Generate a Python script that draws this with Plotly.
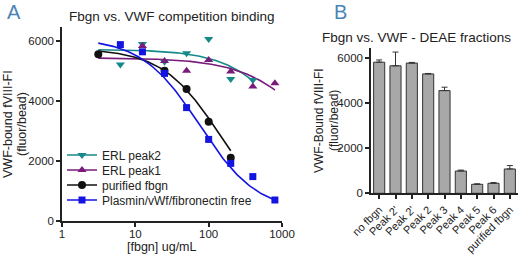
import numpy as np
import plotly.graph_objects as go

# ---------------- Panel A data ----------------
conc_erl2 = [6.25, 12.5, 25, 50, 100, 200, 400]
val_erl2 = [5220, 5900, 5310, 5590, 6070, 4730, 4700]

conc_erl1 = [12.5, 25, 50, 100, 200, 400, 800]
val_erl1 = [5830, 5330, 5010, 5370, 4980, 4480, 4590]

conc_fbgn = [3.125, 25, 50, 100, 200]
val_fbgn = [5560, 5010, 4400, 3310, 2110]

conc_plasmin = [6.25, 12.5, 25, 50, 100, 200, 400, 800]
val_plasmin = [5880, 5640, 4920, 3780, 2720, 1920, 1480, 700]

# four-parameter logistic fit parameters: (top, bottom, IC50, hill, x_start, x_end)
fit_erl2 = (5720, 0, 1800, 1.0, 3.125, 400)
fit_erl1 = (5440, 0, 3800, 0.9, 3.125, 800)
fit_fbgn = (5750, 0, 142, 1.1, 3.125, 200)
fit_plasmin = (6100, 300, 75, 1.1, 3.125, 800)

# ---------------- Panel B data ----------------
fractions = ["no fbgn", "Peak 2'", "Peak 2'", "Peak 2", "Peak 3",
             "Peak 4", "Peak 5", "Peak 6", "purified fbgn"]
fraction_vals = [5820, 5660, 5780, 5300, 4560, 990, 400, 445, 1080]
fraction_err = [100, 610, 30, 20, 150, 40, 20, 30, 150]

FONT = "Liberation Sans, Arial, sans-serif"
TXT = "#222222"
TEAL = "#16898a"
PURPLE = "#7a1a7a"
BLACK = "#111111"
BLUE = "#1414e0"
PANEL = "#4a84b5"


def logistic_curve(p):
    top, bottom, ic50, hill, x0, x1 = p
    xs = np.logspace(np.log10(x0), np.log10(x1), 120)
    ys = bottom + (top - bottom) / (1 + (xs / ic50) ** hill)
    return xs, ys


W, H = 520, 258
fig = go.Figure()

series = [
    ("ERL peak2", conc_erl2, val_erl2, fit_erl2, TEAL, "triangle-down", 8),
    ("ERL peak1", conc_erl1, val_erl1, fit_erl1, PURPLE, "triangle-up", 8),
    ("purified fbgn", conc_fbgn, val_fbgn, fit_fbgn, BLACK, "circle", 8),
    ("Plasmin/vWf/fibronectin free", conc_plasmin, val_plasmin, fit_plasmin, BLUE, "square", 7),
]

for name, xs, ys, fit, col, sym, sz in series:
    cx, cy = logistic_curve(fit)
    fig.add_trace(go.Scatter(x=cx, y=cy, mode="lines", line=dict(color=col, width=1.6),
                             showlegend=False, xaxis="x", yaxis="y", hoverinfo="skip"))
for name, xs, ys, fit, col, sym, sz in series:
    fig.add_trace(go.Scatter(x=xs, y=ys, mode="markers",
                             marker=dict(symbol=sym, size=sz, color=col),
                             showlegend=False, xaxis="x", yaxis="y", cliponaxis=False))

legend_names = ["legend", "legend2", "legend3", "legend4"]
legend_rows = [155, 170, 185, 200]
for (name, xs, ys, fit, col, sym, sz), lg in zip(series, legend_names):
    fig.add_trace(go.Scatter(x=[None], y=[None], mode="lines+markers", name=name,
                             line=dict(color=col, width=1.6),
                             marker=dict(symbol=sym, size=sz, color=col),
                             xaxis="x", yaxis="y", legend=lg, showlegend=True))

# Panel B bars
fig.add_trace(go.Bar(
    x=list(range(len(fractions))), y=fraction_vals, xaxis="x2", yaxis="y2",
    marker=dict(color="#a8a8a8", line=dict(color="#333333", width=1)),
    error_y=dict(type="data", array=fraction_err, arrayminus=[0] * len(fraction_err),
                 symmetric=False, color="#333333", thickness=1, width=3),
    showlegend=False, width=0.68,
))

axis_common = dict(showline=True, linecolor="#222222", linewidth=1.5, ticks="outside",
                   ticklen=4, tickwidth=1.5, tickcolor="#222222", showgrid=False,
                   zeroline=False, automargin=False,
                   tickfont=dict(family=FONT, size=11.5, color=TXT))

legend_style = dict(xanchor="left", yanchor="middle", bgcolor="rgba(0,0,0,0)",
                    font=dict(family=FONT, size=12, color=TXT), borderwidth=0)
legends = {}
for lg, row in zip(legend_names, legend_rows):
    legends[lg] = dict(x=62 / W, y=(H - row) / H, **legend_style)

fig.update_layout(
    template="none",
    width=W, height=H,
    margin=dict(l=0, r=0, t=0, b=0, autoexpand=False),
    paper_bgcolor="white", plot_bgcolor="white",
    font=dict(family=FONT, color=TXT),
    xaxis=dict(domain=[62 / W, 282 / W], type="log", range=[0, 3],
               tickvals=[1, 10, 100, 1000], ticktext=["1", "10", "100", "1000"],
               anchor="y", ticklabelstandoff=-3, **axis_common),
    yaxis=dict(domain=[(H - 221) / H, (H - 27) / H], range=[0, 6467],
               tickvals=[0, 2000, 4000, 6000], anchor="x", **axis_common),
    xaxis2=dict(domain=[371 / W, 518 / W], range=[-0.5, 8.5],
                tickvals=list(range(len(fractions))), ticktext=fractions,
                tickangle=-45, anchor="y2",
                **{**axis_common, "tickfont": dict(family=FONT, size=11, color=TXT)}),
    yaxis2=dict(domain=[(H - 193.3) / H, (H - 48) / H], range=[0, 6450],
                tickvals=[0, 2000, 4000, 6000], anchor="x2", **axis_common),
    bargap=0.32,
    **legends,
)

ann = [
    dict(text="A", x=5 / W, y=(H - 12) / H, font=dict(size=20, color=PANEL), xanchor="left"),
    dict(text="B", x=332 / W, y=(H - 12) / H, font=dict(size=20, color=PANEL), xanchor="left"),
    dict(text="Fbgn vs. VWF competition binding", x=172 / W, y=(H - 16) / H,
         font=dict(size=13.5, color=TXT), xanchor="center"),
    dict(text="Fbgn vs. VWF - DEAE fractions", x=416 / W, y=(H - 37) / H,
         font=dict(size=13.5, color=TXT), xanchor="center"),
    dict(text="VWF-bound fVIII-FI", x=8 / W, y=(H - 124) / H, textangle=-90,
         font=dict(size=12.5, color=TXT), xanchor="center"),
    dict(text="(fluor/bead)", x=22 / W, y=(H - 124) / H, textangle=-90,
         font=dict(size=12.5, color=TXT), xanchor="center"),
    dict(text="[fbgn] ug/mL", x=162 / W, y=(H - 247) / H,
         font=dict(size=12.5, color=TXT), xanchor="center"),
    dict(text="VWF-Bound fVIII-FI", x=319 / W, y=(H - 121) / H, textangle=-90,
         font=dict(size=12, color=TXT), xanchor="center"),
    dict(text="(fluor/bead)", x=334 / W, y=(H - 121) / H, textangle=-90,
         font=dict(size=12, color=TXT), xanchor="center"),
]
for a in ann:
    a.update(xref="paper", yref="paper", showarrow=False, yanchor="middle")
    a["font"]["family"] = FONT
fig.update_layout(annotations=ann)

fig.write_html("out.html", config={"displayModeBar": False},
               post_script="document.body.style.margin='0';document.body.style.overflow='hidden';")
